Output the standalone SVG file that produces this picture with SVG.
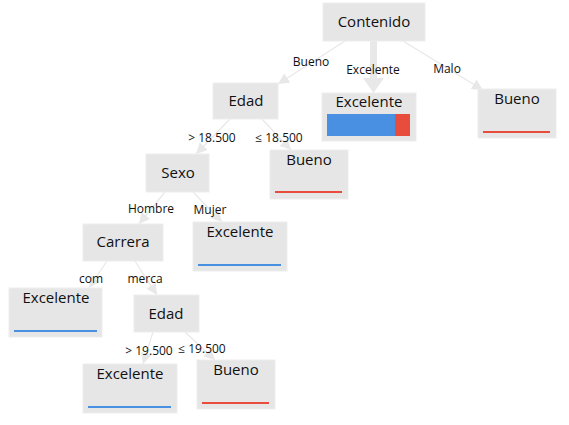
<svg xmlns="http://www.w3.org/2000/svg" width="569" height="425" viewBox="0 0 569 425">
<style>
.box{fill:#e6e6e6;stroke:#ededed;stroke-width:1}
.nt{font-family:"Open Sans","DejaVu Sans",sans-serif;font-size:15px;fill:#111;text-anchor:middle}
.el{font-family:"Open Sans","DejaVu Sans",sans-serif;font-size:12px;fill:#111;text-anchor:middle}
.c{stroke:#e8e8e8;stroke-width:1.2;fill:none;marker-end:url(#ah)}
.blue{stroke:#4a90e2;stroke-width:2}
.red{stroke:#e74c3c;stroke-width:2}
</style>
<defs>
<marker id="ah" viewBox="0 0 10 10" refX="10" refY="5" markerWidth="11" markerHeight="11" markerUnits="userSpaceOnUse" orient="auto">
<path d="M0,0 L10,5 L0,10 z" fill="#e8e8e8"/>
</marker>
</defs>
<rect width="569" height="425" fill="#fff"/>
<g id="connectors">
<line class="c" x1="345" y1="41" x2="278" y2="84"/>
<line x1="373.5" y1="41" x2="373.5" y2="80" stroke="#e8e8e8" stroke-width="7"/>
<polygon points="363,78 384,78 373.5,93" fill="#e8e8e8"/>
<line class="c" x1="403" y1="41" x2="483" y2="90"/>
<line class="c" x1="230" y1="119" x2="196" y2="154"/>
<line class="c" x1="262" y1="119" x2="291" y2="150"/>
<line class="c" x1="165" y1="192" x2="139" y2="224"/>
<line class="c" x1="193" y1="192" x2="222" y2="222"/>
<line class="c" x1="107" y1="261" x2="89" y2="288"/>
<line class="c" x1="135" y1="261" x2="157" y2="295"/>
<line class="c" x1="153" y1="332" x2="143" y2="364"/>
<line class="c" x1="185" y1="332" x2="215" y2="360"/>
<text class="el" x="311" y="66">Bueno</text>
<text class="el" x="373" y="74">Excelente</text>
<text class="el" x="447" y="73">Malo</text>
<text class="el" x="212" y="142">&gt; 18.500</text>
<text class="el" x="279" y="142">≤ 18.500</text>
<text class="el" x="151" y="213">Hombre</text>
<text class="el" x="210" y="214">Mujer</text>
<text class="el" x="91" y="283">com</text>
<text class="el" x="145" y="283">merca</text>
<text class="el" x="149" y="355">&gt; 19.500</text>
<text class="el" x="202" y="353">≤ 19.500</text>
</g>
<g id="n-contenido"><rect class="box" x="323" y="3" width="102" height="38"/><text class="nt" x="374" y="27">Contenido</text></g>
<g id="n-edad1"><rect class="box" x="213" y="83" width="65" height="36"/><text class="nt" x="246" y="106">Edad</text></g>
<g id="n-excelente1"><rect class="box" x="322" y="93" width="94" height="48"/><text class="nt" x="369" y="107">Excelente</text>
<rect x="327" y="114" width="68" height="22" fill="#4a90e2"/><rect x="395" y="114" width="15" height="22" fill="#e74c3c"/></g>
<g id="n-bueno1"><rect class="box" x="478" y="89" width="78" height="49"/><text class="nt" x="517" y="104">Bueno</text><line class="red" x1="483" y1="132" x2="550" y2="132"/></g>
<g id="n-sexo"><rect class="box" x="146" y="154" width="63" height="38"/><text class="nt" x="178" y="178">Sexo</text></g>
<g id="n-bueno2"><rect class="box" x="270" y="150" width="78" height="49"/><text class="nt" x="309" y="165">Bueno</text><line class="red" x1="275" y1="192" x2="342" y2="192"/></g>
<g id="n-carrera"><rect class="box" x="83" y="224" width="80" height="37"/><text class="nt" x="123" y="247">Carrera</text></g>
<g id="n-excelente2"><rect class="box" x="193" y="222" width="94" height="49"/><text class="nt" x="240" y="237">Excelente</text><line class="blue" x1="198" y1="265" x2="281" y2="265"/></g>
<g id="n-excelente3"><rect class="box" x="9" y="288" width="93" height="49"/><text class="nt" x="56" y="303">Excelente</text><line class="blue" x1="14" y1="331" x2="97" y2="331"/></g>
<g id="n-edad2"><rect class="box" x="134" y="295" width="65" height="37"/><text class="nt" x="166" y="319">Edad</text></g>
<g id="n-excelente4"><rect class="box" x="83" y="364" width="94" height="49"/><text class="nt" x="130" y="379">Excelente</text><line class="blue" x1="88" y1="407" x2="171" y2="407"/></g>
<g id="n-bueno3"><rect class="box" x="197" y="360" width="78" height="49"/><text class="nt" x="236" y="375">Bueno</text><line class="red" x1="202" y1="403" x2="269" y2="403"/></g>
</svg>
